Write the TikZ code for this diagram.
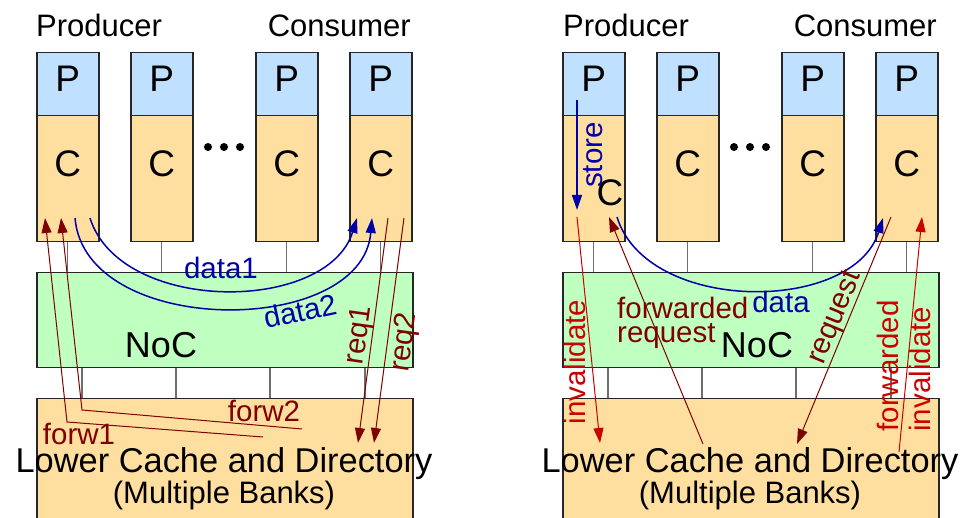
\documentclass[tikz,border=0pt]{standalone}
\usepackage{fontspec}
\setmainfont{Liberation Sans}
\usetikzlibrary{arrows.meta,calc}
\definecolor{pblue}{RGB}{191,224,255}
\definecolor{corange}{RGB}{255,223,160}
\definecolor{nocgreen}{RGB}{191,255,191}
\definecolor{arrblue}{RGB}{0,0,170}
\definecolor{dred}{RGB}{128,0,0}
\definecolor{bred}{RGB}{204,0,0}
\definecolor{linkgray}{RGB}{110,110,110}
\newcommand\fsTitle{\fontsize{31}{36}\selectfont}
\newcommand\fsBig{\fontsize{37}{42}\selectfont}
\newcommand\fsNoc{\fontsize{36}{40}\selectfont}
\newcommand\fsLow{\fontsize{34.4}{40}\selectfont}
\newcommand\fsBank{\fontsize{31}{36}\selectfont}
\newcommand\fsLab{\fontsize{29.5}{24}\selectfont}
\begin{document}
\begin{tikzpicture}[x=1pt,y=-1pt,
  box/.style={draw=black!85, line width=1.5pt, inner sep=0pt, anchor=north west},
  pbox/.style={box, fill=pblue, minimum width=62pt, minimum height=63pt},
  cbox/.style={box, fill=corange, minimum width=62pt, minimum height=126pt},
  nocbox/.style={box, fill=nocgreen, minimum width=376pt, minimum height=95pt},
  lowbox/.style={box, fill=corange, minimum width=376pt, minimum height=150pt},
  link/.style={draw=linkgray, line width=1.3pt},
  txt/.style={inner sep=0pt},
  lab/.style={inner sep=0pt, font=\fsLab},
  tip/.style={-{Triangle[length=15pt,width=10pt]}},
  bluearr/.style={tip, draw=arrblue, line width=1.5pt},
  darr/.style={tip, draw=dred, line width=1pt},
  rarr/.style={tip, draw=bred, line width=1pt},
  dotc/.style={fill=black, circle, inner sep=0pt, minimum size=8pt}
]
\useasboundingbox (0,0) rectangle (964,518);
\clip (0,0) rectangle (964,518);

% ================= LEFT PANEL =================
\node[txt, anchor=base west, font=\fsTitle] (lprod) at (36,37) {Producer};
\node[txt, anchor=base east, font=\fsTitle] (lcons) at (411,37) {Consumer};

\node[pbox] (p1) at (36,52) {};
\node[pbox] (p2) at (130,52) {};
\node[pbox] (p3) at (255,52) {};
\node[pbox] (p4) at (349,52) {};
\node[cbox] (c1) at (36,115) {};
\node[cbox] (c2) at (130,115) {};
\node[cbox] (c3) at (255,115) {};
\node[cbox] (c4) at (349,115) {};
\foreach \i in {1,...,4}{
  \node[txt, anchor=base, font=\fsBig] (pl\i) at ($(p\i.north)+(0,40)$) {P};
  \node[txt, anchor=base, font=\fsBig] (cl\i) at ($(c\i.north)+(0,62)$) {C};
}
\node[dotc] (ld1) at (208,147) {};
\node[dotc] (ld2) at (224,147) {};
\node[dotc] (ld3) at (240,147) {};

\node[nocbox] (noc) at (36,272) {};
\node[lowbox] (low) at (36,398) {};
\node[txt, anchor=base, font=\fsNoc] (noclab) at (161,358) {NoC};
\node[txt, anchor=base, font=\fsLow] (lowlab) at (224,472) {Lower Cache and Directory};
\node[txt, anchor=base, font=\fsBank] (banklab) at (224,503) {(Multiple Banks)};

\foreach \i in {1,...,4}{
  \draw[link] (c\i.south) -- (c\i.south |- noc.north);
}
\foreach \xx [count=\k] in {82,176,270,365}{
  \coordinate (lb\k) at (\xx,0);
  \draw[link] (noc.south -| lb\k) -- (low.north -| lb\k);
}

% data curves
\coordinate (d1s) at (90,218); \coordinate (d1e) at (357,218);
\coordinate (d2s) at (75,218); \coordinate (d2e) at (372,218);
\draw[bluearr] (d1s) .. controls (120,314) and (327,314) .. (d1e);
\draw[bluearr] (d2s) .. controls (85,338) and (362,338) .. (d2e);
\node[lab, text=arrblue, anchor=base] (data1) at (221,279) {data1};
\node[lab, text=arrblue, rotate=12] (data2) at (300,311) {data2};

% requests
\coordinate (r1s) at (388,218); \coordinate (r1e) at (358,443);
\coordinate (r2s) at (404,218); \coordinate (r2e) at (374,443);
\draw[darr] (r1s) -- (r1e);
\draw[darr] (r2s) -- (r2e);
\node[lab, text=dred, rotate=82] (req1) at (360,335) {req1};
\node[lab, text=dred, rotate=82] (req2) at (405,342) {req2};

% forwards
\coordinate (f1s) at (263,437); \coordinate (f1k) at (67,422); \coordinate (f1e) at (45,218);
\coordinate (f2s) at (302,429); \coordinate (f2k) at (82,410); \coordinate (f2e) at (61,218);
\draw[darr] (f1s) -- (f1k) -- (f1e);
\draw[darr] (f2s) -- (f2k) -- (f2e);
\node[lab, text=dred, anchor=base] (forw1) at (79,445) {forw1};
\node[lab, text=dred, anchor=base] (forw2) at (264,421) {forw2};

% ================= RIGHT PANEL =================
\node[txt, anchor=base west, font=\fsTitle] (rprod) at (563,37) {Producer};
\node[txt, anchor=base east, font=\fsTitle] (rcons) at (937,37) {Consumer};

\node[pbox] (rp1) at (562,52) {};
\node[pbox] (rp2) at (656,52) {};
\node[pbox] (rp3) at (781,52) {};
\node[pbox] (rp4) at (875,52) {};
\node[cbox] (rc1) at (562,115) {};
\node[cbox] (rc2) at (656,115) {};
\node[cbox] (rc3) at (781,115) {};
\node[cbox] (rc4) at (875,115) {};
\foreach \i in {1,...,4}{
  \node[txt, anchor=base, font=\fsBig] (rpl\i) at ($(rp\i.north)+(0,40)$) {P};
}
\node[txt, anchor=base, font=\fsBig] (rcl1) at (610,206) {C};
\foreach \i in {2,3,4}{
  \node[txt, anchor=base, font=\fsBig] (rcl\i) at ($(rc\i.north)+(0,62)$) {C};
}
\node[dotc] (rd1) at (734,147) {};
\node[dotc] (rd2) at (750,147) {};
\node[dotc] (rd3) at (766,147) {};

\node[nocbox] (rnoc) at (562,272) {};
\node[lowbox] (rlow) at (562,398) {};
\node[txt, anchor=base, font=\fsNoc] (rnoclab) at (757,358) {NoC};
\node[txt, anchor=base, font=\fsLow] (rlowlab) at (750,472) {Lower Cache and Directory};
\node[txt, anchor=base, font=\fsBank] (rbanklab) at (750,503) {(Multiple Banks)};

\foreach \i in {1,...,4}{
  \draw[link] (rc\i.south) -- (rc\i.south |- rnoc.north);
}
\foreach \xx [count=\k] in {608,702,796,891}{
  \coordinate (rb\k) at (\xx,0);
  \draw[link] (rnoc.south -| rb\k) -- (rlow.north -| rb\k);
}

% store
\coordinate (sts) at (577,100); \coordinate (ste) at (577,210);
\draw[bluearr] (sts) -- (ste);
\node[lab, text=arrblue, rotate=90] (store) at (593,155) {store};

% invalidate
\coordinate (ivs) at (577,217); \coordinate (ive) at (600,443);
\draw[rarr] (ivs) -- (ive);
\node[lab, text=bred, rotate=90] (inval) at (575,362) {invalidate};

% forwarded request
\coordinate (frs) at (703,444); \coordinate (fre) at (609,217);
\draw[darr] (frs) -- (fre);
\node[lab, text=dred, align=left, anchor=north west] (fwdreq) at (617,297) {forwarded\\request};

% data
\coordinate (dts) at (617,217); \coordinate (dte) at (883,218);
\draw[bluearr] (dts) .. controls (647,314) and (853,314) .. (dte);
\node[lab, text=arrblue, anchor=base] (datar) at (781,313) {data};

% request
\coordinate (rqs) at (891,217); \coordinate (rqe) at (797,444);
\draw[darr] (rqs) -- (rqe);
\node[lab, text=dred, rotate=67.5] (reqr) at (836,318) {request};

% forwarded invalidate
\coordinate (fis) at (899,452); \coordinate (fie) at (922,217);
\draw[rarr] (fis) -- (fie);
\node[inner sep=0pt, font=\fontsize{29.5}{32}\selectfont, text=bred, rotate=90, align=left] (fwdinv) at (904,366) {forwarded\\invalidate};

\end{tikzpicture}
\end{document}
